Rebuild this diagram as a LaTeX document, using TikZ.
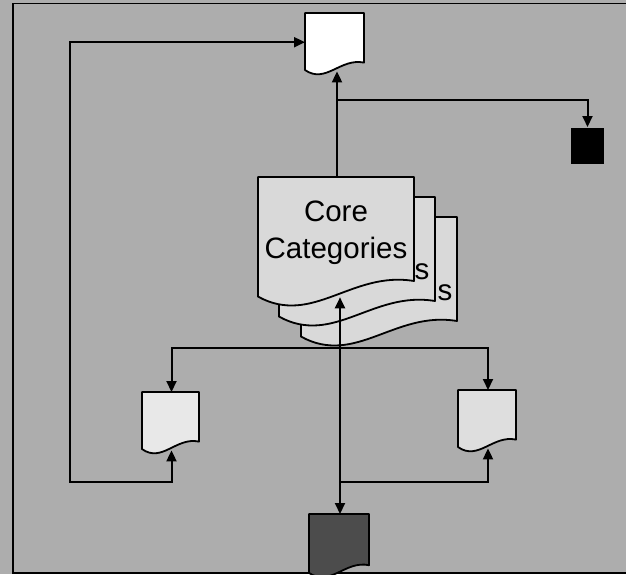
\documentclass[tikz,border=0pt]{standalone}
\usepackage{fontspec}
\setmainfont{Liberation Sans}
\usetikzlibrary{arrows.meta}

\definecolor{bggray}{gray}{0.68}
\definecolor{coregray}{gray}{0.85}
\definecolor{leftgray}{gray}{0.91}
\definecolor{rightgray}{gray}{0.87}
\definecolor{darkgray}{gray}{0.3}

% document shape with a wavy bottom, plus a named box over it
\newcommand{\docnode}[6]{%
  \filldraw[docline,#6] (#2,#3) -- (#2+#4,#3) -- (#2+#4,#3+0.8*#5)
    .. controls (#2+0.6*#4,#3+0.72*#5) and (#2+0.35*#4,#3+1.15*#5) .. (#2,#3+0.92*#5) -- cycle;
  \node[inner sep=0pt,minimum width=#4,minimum height=0.91*#5,anchor=north west] (#1) at (#2,#3) {};
}

\begin{document}
\begin{tikzpicture}[x=1pt,y=-1pt,line width=2pt,
  >={Triangle[length=11pt,width=10pt]},
  docline/.style={draw=black,line width=1.8pt,line join=round},
  bigtext/.style={font=\fontsize{29.5}{37}\selectfont,inner sep=0pt}]
\fill[bggray] (0,0) rectangle (626,574);
\useasboundingbox (0,0) rectangle (626,574);
\draw[line width=1.4pt] (626,3.5) -- (13,3.5) -- (13,573) -- (626,573);

\docnode{report}{305}{13}{59}{62}{fill=white}
\node[fill=black,inner sep=0pt,minimum width=33,minimum height=36,anchor=north west] (sink) at (570,127) {};

% stack of core category sheets
\docnode{core3}{301}{217}{156}{130}{fill=coregray}
\node[bigtext] (s3) at (445,293) {s};
\docnode{core2}{279}{197}{156}{130}{fill=coregray}
\node[bigtext] (s2) at (422,272) {s};
\docnode{core}{258}{177}{156}{130}{fill=coregray}
\node[bigtext,align=center] (title) at (336,233) {Core\\Categories};

\docnode{inL}{142}{392}{57}{62}{fill=leftgray}
\docnode{inR}{458}{390}{58}{62}{fill=rightgray}
\docnode{src}{309}{514}{60}{64}{fill=darkgray}

\coordinate (jr) at (336,100);
\coordinate (jb) at (339,348);
\coordinate (jl) at (70,482);
\coordinate (jm) at (339,482);

\draw[->] (core.north) -- (core.north |- report.south);
\draw[->] (jr) -| (sink.north);
\draw[<->] (src.north) -- (src.north |- core.south);
\draw[->] (jb) -| (inL.north);
\draw[->] (jb) -| (inR.north);
\draw[<->] (report.west) -| (jl) -| (inL.south);
\draw[->] (jm) -| (inR.south);
\end{tikzpicture}
\end{document}
